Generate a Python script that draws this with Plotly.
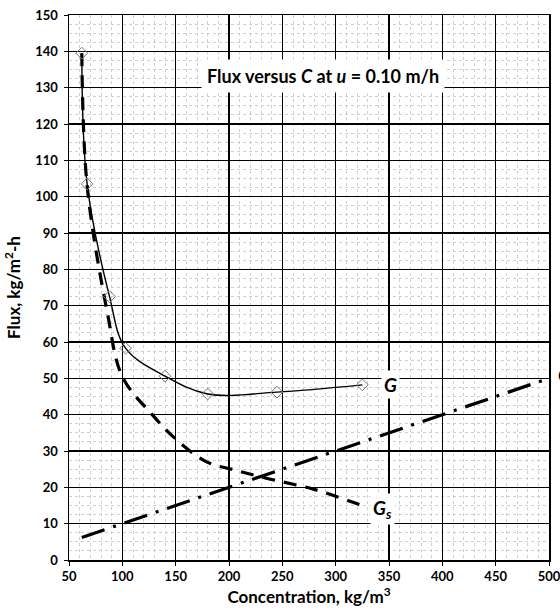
import plotly.graph_objects as go

# Data
conc_g = [62, 67, 88, 103, 140, 180, 245, 325]
flux_g = [139.5, 103.5, 72.5, 58.3, 50.6, 45.7, 46.2, 48.2]

conc_gs = [62, 67, 86, 100, 128, 150, 179, 205, 235, 279, 325]
flux_gs = [139.5, 103.0, 68.0, 50.5, 40.0, 33.3, 27.0, 24.8, 22.5, 19.5, 15.0]

conc_gu = [62, 100, 200, 300, 400, 500]
flux_gu = [6.2, 10.0, 20.0, 30.0, 40.0, 50.0]

x_ticks = [50, 100, 150, 200, 250, 300, 350, 400, 450, 500]
y_ticks = [0, 10, 20, 30, 40, 50, 60, 70, 80, 90, 100, 110, 120, 130, 140, 150]

FONT = "Lato"

fig = go.Figure()

fig.add_trace(go.Scatter(
    x=conc_gu, y=flux_gu, mode="lines",
    line=dict(color="black", width=3.2, dash="24px,9px,3px,9px"),
    showlegend=False, hoverinfo="skip"))

fig.add_trace(go.Scatter(
    x=conc_gs, y=flux_gs, mode="lines",
    line=dict(color="black", width=3.2, dash="13px,9px", shape="spline", smoothing=1.0),
    showlegend=False, hoverinfo="skip"))

fig.add_trace(go.Scatter(
    x=conc_g, y=flux_g, mode="lines+markers",
    line=dict(color="black", width=1.4, shape="spline", smoothing=1.0),
    marker=dict(symbol="diamond-open", size=9, color="#777777", line=dict(width=1)),
    showlegend=False, hoverinfo="skip"))

fig.update_layout(
    width=560, height=612,
    margin=dict(l=69, r=11, t=15, b=52, autoexpand=False),
    paper_bgcolor="white", plot_bgcolor="white",
    font=dict(family=FONT, color="black"),
    xaxis=dict(
        range=[50, 500], tickvals=x_ticks, ticks="outside", ticklen=4, tickcolor="black",
        automargin=False, ticklabeloverflow="allow",
        showgrid=True, gridcolor="black", gridwidth=1.2,
        minor=dict(dtick=10, showgrid=True, gridcolor="#cfcfcf", griddash="dot", gridwidth=1),
        showline=True, linecolor="black", linewidth=1.5, mirror=True, zeroline=False,
        tickfont=dict(family=FONT, size=13, color="black", weight="bold"),
        title=dict(text="Concentration, kg/m<sup>3</sup>", standoff=6,
                   font=dict(family=FONT, size=17, color="black", weight="bold")),
    ),
    yaxis=dict(
        range=[0, 150], tickvals=y_ticks, ticks="outside", ticklen=4, tickcolor="black",
        automargin=False, ticklabeloverflow="allow", ticklabelstandoff=3,
        showgrid=True, gridcolor="black", gridwidth=1.2,
        minor=dict(dtick=2.5, showgrid=True, gridcolor="#cfcfcf", griddash="dot", gridwidth=1),
        showline=True, linecolor="black", linewidth=1.5, mirror=True, zeroline=False,
        tickfont=dict(family=FONT, size=13, color="black", weight="bold"),
        title=dict(text="Flux, kg/m<sup>2</sup>-h", standoff=10,
                   font=dict(family=FONT, size=17, color="black", weight="bold")),
    ),
    annotations=[
        dict(x=288, y=133.2, xref="x", yref="y", showarrow=False,
             text="Flux versus <i>C</i> at <i>u</i> = 0.10 m/h",
             font=dict(family=FONT, size=18, color="black", weight="bold"),
             bgcolor="white", borderpad=5),
        dict(x=351, y=48.2, xref="x", yref="y", showarrow=False,
             text="<i>G</i>", font=dict(family=FONT, size=19, color="black", weight="bold"),
             bgcolor="white", borderpad=2),
        dict(x=344, y=14.0, xref="x", yref="y", showarrow=False,
             text="<i>G<sub>s</sub></i>", font=dict(family=FONT, size=19, color="black", weight="bold"),
             bgcolor="white", borderpad=2),
        dict(x=1.015, y=50.6, xref="paper", yref="y", xanchor="left", showarrow=False,
             text="<i>G<sub>u</sub></i>", font=dict(family=FONT, size=19, color="black", weight="bold")),
    ],
)

fig.write_html(
    "out.html",
    config={"displayModeBar": False, "staticPlot": True},
    post_script="document.body.style.margin='0';document.body.style.overflow='hidden';",
)
